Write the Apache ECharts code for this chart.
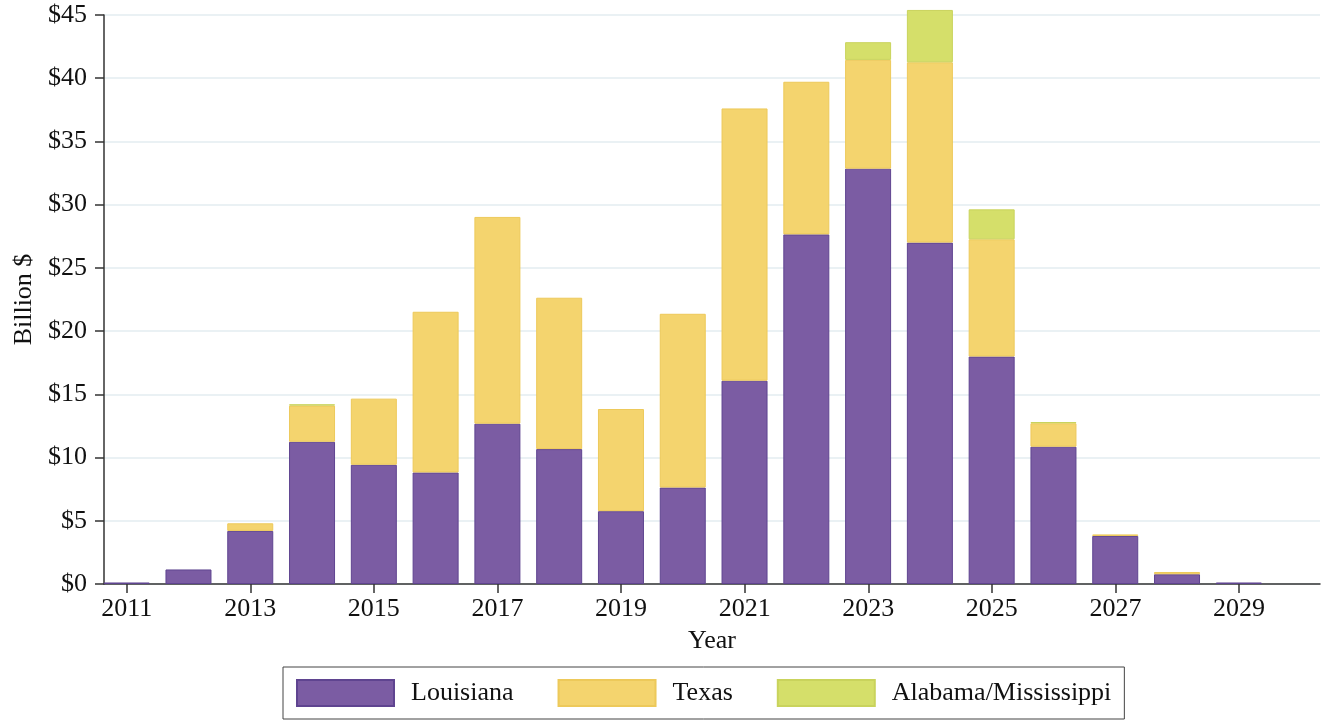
<!DOCTYPE html>
<html>
<head>
<meta charset="utf-8">
<script src="https://cdn.jsdelivr.net/npm/echarts@6/dist/echarts.min.js"></script>
<style>
  html, body { margin: 0; padding: 0; background: #ffffff; }
  #chart { width: 1325px; height: 721px; }
</style>
</head>
<body>
<div id="chart"></div>
<script>
const years = ['2011', '2012', '2013', '2014', '2015', '2016', '2017', '2018', '2019', '2020', '2021', '2022', '2023', '2024', '2025', '2026', '2027', '2028', '2029'];
const louisiana = [0.12, 1.15, 4.2, 11.25, 9.43, 8.82, 12.68, 10.67, 5.76, 7.63, 16.08, 27.65, 32.85, 27.0, 17.99, 10.86, 3.8, 0.77, 0.12];
const texas = [null, null, 0.6, 2.86, 5.23, 12.71, 16.35, 11.97, 8.08, 13.74, 21.53, 12.07, 8.6, 14.26, 9.27, 1.85, 0.12, 0.18, null];
const alabamaMississippi = [null, null, null, 0.1, null, null, null, null, null, null, null, null, 1.4, 4.14, 2.37, 0.1, null, null, null];
const xTickYears = [2011, 2013, 2015, 2017, 2019, 2021, 2023, 2025, 2027, 2029];
const yTickValues = [0, 5, 10, 15, 20, 25, 30, 35, 40, 45];
const seriesNames = ['Louisiana', 'Texas', 'Alabama/Mississippi'];

const FONT = 'Liberation Serif';
const FS = 26;
const chart = echarts.init(document.getElementById('chart'), null, { renderer: 'canvas' });

const colors = ['#7b5ca3', '#f4d46e', '#d5df6a'];
const borders = ['#5f4490', '#edc95a', '#c9d35c'];
const seriesData = [louisiana, texas, alabamaMississippi];

chart.setOption({
  animation: false,
  backgroundColor: '#ffffff',
  textStyle: { fontFamily: FONT },
  grid: [
    { left: 104, right: 5, top: 15, bottom: 137, containLabel: false },
    { left: 95.8, right: 55.3, top: 15, bottom: 137, containLabel: false }
  ],
  legend: {
    data: seriesNames,
    left: 283,
    top: 667,
    orient: 'horizontal',
    itemWidth: 97,
    itemHeight: 26,
    itemGap: 44,
    padding: [12, 13, 12, 13],
    borderColor: '#444',
    borderWidth: 1,
    icon: 'rect',
    textStyle: { fontFamily: FONT, fontSize: FS, color: '#111', padding: [0, 0, 0, 12] }
  },
  xAxis: [
    {
      type: 'value',
      gridIndex: 0,
      min: 2010.633,
      max: 2030.31,
      name: 'Year',
      nameLocation: 'middle',
      nameGap: 44,
      nameTextStyle: { fontFamily: FONT, fontSize: FS, color: '#111' },
      axisLine: { show: true, lineStyle: { color: '#333', width: 1.5 } },
      axisTick: { show: true, length: 9, customValues: xTickYears, lineStyle: { color: '#333', width: 1.5 } },
      axisLabel: { customValues: xTickYears, fontFamily: FONT, fontSize: FS, color: '#111', margin: 12, formatter: v => String(v) },
      splitLine: { show: false }
    },
    {
      type: 'category',
      gridIndex: 1,
      data: years,
      boundaryGap: true,
      show: false
    }
  ],
  yAxis: [
    {
      type: 'value',
      gridIndex: 0,
      min: 0,
      max: 45,
      interval: 5,
      name: 'Billion $',
      nameLocation: 'middle',
      nameGap: 56,
      nameRotate: 90,
      nameTextStyle: { fontFamily: FONT, fontSize: FS, color: '#111' },
      axisLine: { show: true, lineStyle: { color: '#333', width: 1.5 } },
      axisTick: { show: true, length: 9, lineStyle: { color: '#333', width: 1.5 } },
      axisLabel: { customValues: yTickValues, fontFamily: FONT, fontSize: FS, color: '#111', margin: 17, formatter: v => '$' + v },
      splitLine: { show: true, lineStyle: { color: '#e3edf0', width: 1.5 } }
    },
    {
      type: 'value',
      gridIndex: 1,
      min: 0,
      max: 45,
      interval: 5,
      show: false,
      splitLine: { show: false }
    }
  ],
  series: seriesNames.map((name, k) => ({
    name: name,
    type: 'bar',
    stack: 'total',
    xAxisIndex: 1,
    yAxisIndex: 1,
    barWidth: 46,
    clip: false,
    data: seriesData[k],
    itemStyle: { color: colors[k], borderColor: borders[k], borderWidth: 1 },
    emphasis: { disabled: true }
  }))
});
</script>
</body>
</html>
